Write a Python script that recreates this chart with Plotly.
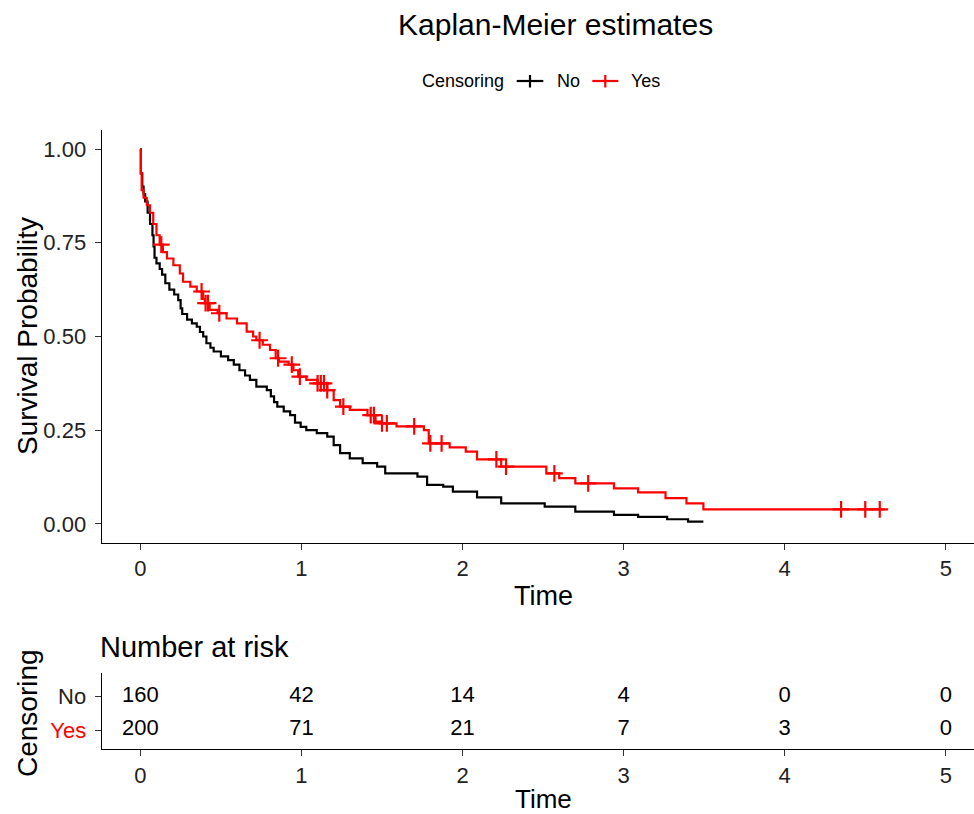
import numpy as np
import plotly.graph_objects as go

# Kaplan-Meier step estimates (time, survival after each step)
no_time = [0, 0.003, 0.012, 0.02, 0.03, 0.045, 0.06, 0.075, 0.082, 0.088, 0.10, 0.12, 0.135,
           0.155, 0.18, 0.21, 0.235, 0.25, 0.26, 0.29, 0.32, 0.35, 0.37, 0.39, 0.41, 0.435,
           0.455, 0.50, 0.545, 0.58, 0.615, 0.65, 0.68, 0.72, 0.785, 0.81, 0.83, 0.85, 0.89,
           0.93, 0.96, 0.995, 1.03, 1.095, 1.16, 1.20, 1.24, 1.30, 1.38, 1.47, 1.52, 1.72,
           1.78, 1.88, 1.94, 2.09, 2.24, 2.51, 2.70, 2.94, 3.09, 3.27, 3.40, 3.495]
no_surv = [1.0, 0.935, 0.90, 0.88, 0.86, 0.83, 0.80, 0.77, 0.74, 0.71, 0.695, 0.68, 0.665,
           0.642, 0.625, 0.612, 0.597, 0.575, 0.56, 0.545, 0.535, 0.526, 0.512, 0.50, 0.482,
           0.47, 0.46, 0.447, 0.437, 0.425, 0.41, 0.396, 0.384, 0.366, 0.357, 0.34, 0.325,
           0.313, 0.30, 0.29, 0.27, 0.259, 0.25, 0.242, 0.233, 0.21, 0.189, 0.175, 0.162,
           0.153, 0.135, 0.126, 0.104, 0.0995, 0.086, 0.071, 0.055, 0.046, 0.033, 0.024,
           0.019, 0.0125, 0.006, 0.006]

yes_time = [0, 0.003, 0.008, 0.02, 0.04, 0.06, 0.08, 0.10, 0.12, 0.14, 0.165, 0.205, 0.245,
            0.265, 0.31, 0.35, 0.39, 0.40, 0.43, 0.48, 0.535, 0.60, 0.66, 0.70, 0.72, 0.76,
            0.805, 0.84, 0.86, 0.92, 0.95, 0.98, 1.03, 1.10, 1.16, 1.20, 1.24, 1.30, 1.41,
            1.46, 1.50, 1.59, 1.76, 1.79, 1.92, 2.02, 2.09, 2.24, 2.52, 2.60, 2.70, 2.94,
            3.09, 3.26, 3.39, 3.495, 4.62]
yes_surv = [1.0, 0.935, 0.89, 0.87, 0.85, 0.83, 0.80, 0.77, 0.745, 0.725, 0.708, 0.69, 0.668,
            0.646, 0.633, 0.62, 0.60, 0.589, 0.571, 0.562, 0.548, 0.535, 0.513, 0.50, 0.49,
            0.478, 0.464, 0.442, 0.433, 0.425, 0.41, 0.393, 0.384, 0.375, 0.357, 0.33, 0.313,
            0.304, 0.29, 0.273, 0.268, 0.26, 0.25, 0.215, 0.204, 0.193, 0.172, 0.153, 0.135,
            0.122, 0.108, 0.095, 0.084, 0.069, 0.055, 0.039, 0.039]

# Censoring times in the "Yes" group
yes_censor = [0.13, 0.38, 0.405, 0.42, 0.49, 0.74, 0.855, 0.94, 0.99, 1.10, 1.12, 1.14, 1.16,
              1.26, 1.43, 1.45, 1.50, 1.53, 1.70, 1.80, 1.87, 2.21, 2.27, 2.57, 2.78, 4.35,
              4.50, 4.59]

# Number-at-risk table
risk_times = [0, 1, 2, 3, 4, 5]
risk_no = [160, 42, 14, 4, 0, 0]
risk_yes = [200, 71, 21, 7, 3, 0]

group_labels = ["No", "Yes"]
group_colors = ["black", "red"]

FONT = "Liberation Sans, Arial, sans-serif"
W, H = 974, 814
LW = 2.2


def px_x(p):
    return p / W


def px_y(p):
    return 1 - p / H


def step_value(times, surv, t):
    i = np.searchsorted(np.asarray(times), t, side="right") - 1
    return np.asarray(surv)[i]


censor_y = [float(step_value(yes_time, yes_surv, t)) for t in yes_censor]

fig = go.Figure()

fig.add_trace(go.Scatter(x=no_time, y=no_surv, mode="lines", line_shape="hv",
                         line=dict(color=group_colors[0], width=LW), showlegend=False,
                         xaxis="x", yaxis="y"))
fig.add_trace(go.Scatter(x=yes_time, y=yes_surv, mode="lines", line_shape="hv",
                         line=dict(color=group_colors[1], width=LW), showlegend=False,
                         xaxis="x", yaxis="y"))
fig.add_trace(go.Scatter(x=yes_censor, y=censor_y, mode="markers",
                         marker=dict(symbol="cross-thin", size=12,
                                     line=dict(width=LW, color=group_colors[1])),
                         showlegend=False, xaxis="x", yaxis="y"))

# risk table numbers
for yv, vals in ((1, risk_no), (0, risk_yes)):
    fig.add_trace(go.Scatter(x=risk_times, y=[yv] * len(risk_times), mode="text",
                             text=[str(v) for v in vals], textposition="middle center",
                             textfont=dict(family=FONT, size=22, color="black"),
                             showlegend=False, xaxis="x2", yaxis="y2"))

x_dom = [px_x(101.7), 1.0]
x_rng = [-0.24, 5.175]
axis_common = dict(showline=True, linecolor="black", linewidth=1.3, ticks="outside",
                   ticklen=6, tickwidth=1.1, tickcolor="#333", showgrid=False, zeroline=False,
                   tickfont=dict(family=FONT, size=22, color="#222"))

fig.update_layout(
    width=W, height=H,
    margin=dict(l=0, r=0, t=0, b=0),
    paper_bgcolor="white", plot_bgcolor="white",
    font=dict(family=FONT, color="black"),
    showlegend=False,
    xaxis=dict(domain=x_dom, range=x_rng, tickvals=risk_times, anchor="y", **axis_common),
    yaxis=dict(domain=[px_y(542.7), px_y(130)], range=[-0.05, 1.0507],
               tickvals=[0, 0.25, 0.5, 0.75, 1.0],
               ticktext=["0.00", "0.25", "0.50", "0.75", "1.00"], anchor="x",
               ticklabelstandoff=4, **axis_common),
    xaxis2=dict(domain=x_dom, range=x_rng, tickvals=risk_times, anchor="y2", **axis_common),
    yaxis2=dict(domain=[px_y(749), px_y(672.7)], range=[-0.57, 1.72], tickvals=[0, 1],
                ticktext=["<span style='color:red'>Yes</span>", "No"], anchor="x2",
                ticklabelstandoff=4, **axis_common),
)

annotations = [
    dict(text="Kaplan-Meier estimates", x=px_x(555.5), y=px_y(25), font=dict(size=30)),
    dict(text="Time", x=px_x(543), y=px_y(596), font=dict(size=27)),
    dict(text="Survival Probability", x=px_x(27), y=px_y(336), font=dict(size=28),
         textangle=-90),
    dict(text="Number at risk", x=px_x(98), y=px_y(647), xanchor="left", font=dict(size=29)),
    dict(text="Censoring", x=px_x(27), y=px_y(713), font=dict(size=28), textangle=-90),
    dict(text="Time", x=px_x(543), y=px_y(799), font=dict(size=26)),
    # legend
    dict(text="Censoring", x=px_x(419.5), y=px_y(81), xanchor="left", font=dict(size=18)),
]

# legend keys: short line with a plus mark, then the group label
legend_keys = [(516.7, 543.3, 554.5), (592.3, 618.3, 628.5)]
shapes = []
for (x0, x1, xt), name, col in zip(legend_keys, group_labels, group_colors):
    xc = (x0 + x1) / 2
    shapes.append(dict(type="line", xref="paper", yref="paper", x0=px_x(x0), x1=px_x(x1),
                       y0=px_y(81), y1=px_y(81), line=dict(color=col, width=LW)))
    shapes.append(dict(type="line", xref="paper", yref="paper", x0=px_x(xc), x1=px_x(xc),
                       y0=px_y(75), y1=px_y(87.5), line=dict(color=col, width=LW)))
    annotations.append(dict(text=name, x=px_x(xt), y=px_y(81), xanchor="left",
                            font=dict(size=18)))
fig.update_layout(shapes=shapes)

for a in annotations:
    a.setdefault("xanchor", "center")
    fig.add_annotation(xref="paper", yref="paper", yanchor="middle", showarrow=False,
                       **a)
for a in fig.layout.annotations:
    a.font.family = FONT
    a.font.color = "black"

fig.write_html("out.html")
